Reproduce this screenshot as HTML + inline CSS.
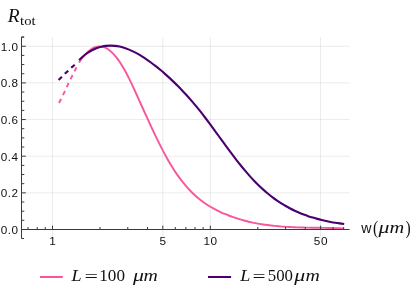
<!DOCTYPE html>
<html><head><meta charset="utf-8"><title>Rtot plot</title>
<style>html,body{margin:0;padding:0;background:#fff;}body{width:415px;height:300px;overflow:hidden;font-family:"Liberation Sans",sans-serif;}svg{display:block;will-change:transform;}</style></head>
<body>
<svg width="415" height="300" viewBox="0 0 415 300">
<rect width="415" height="300" fill="#fff"/>
<path d="M52.50 37.00 V238.50 M162.80 37.00 V238.50 M210.30 37.00 V238.50 M320.60 37.00 V238.50" stroke="#000" stroke-opacity="0.08" stroke-width="1" fill="none"/>
<path d="M21.50 229.50 H349.60 M21.50 192.85 H349.60 M21.50 156.20 H349.60 M21.50 119.55 H349.60 M21.50 82.90 H349.60 M21.50 46.25 H349.60" stroke="#000" stroke-opacity="0.08" stroke-width="1" fill="none"/>
<path d="M59.00 103.00 C59.33 102.33 60.33 100.33 61.00 99.00 C61.67 97.67 62.33 96.33 63.00 95.00 C63.67 93.67 64.37 92.33 65.00 91.00 C65.63 89.67 66.20 88.33 66.80 87.00 C67.40 85.67 68.00 84.27 68.60 83.00 C69.20 81.73 69.77 80.65 70.40 79.40 C71.03 78.15 71.77 76.77 72.40 75.50 C73.03 74.23 73.53 73.13 74.20 71.80 C74.87 70.47 75.60 69.06 76.40 67.50 C77.20 65.94 78.57 63.31 79.00 62.47" stroke="#F7579C" stroke-width="1.9" fill="none" stroke-dasharray="4.6 4.2 4.6 4.2 4.6 4.2 4.6 4.2 4.6 100"/>
<path d="M79.00 62.47 C79.64 61.60 81.56 58.83 82.84 57.24 C84.12 55.65 85.40 54.20 86.68 52.94 C87.96 51.67 89.23 50.56 90.51 49.65 C91.79 48.73 93.07 47.99 94.35 47.45 C95.63 46.91 96.91 46.55 98.19 46.41 C99.47 46.27 100.75 46.33 102.03 46.59 C103.31 46.85 104.58 47.31 105.86 47.96 C107.14 48.61 108.42 49.45 109.70 50.46 C110.98 51.47 112.26 52.67 113.54 54.04 C114.82 55.41 116.10 56.96 117.38 58.67 C118.66 60.38 119.93 62.25 121.21 64.28 C122.49 66.31 123.77 68.51 125.05 70.83 C126.33 73.15 127.61 75.64 128.89 78.19 C130.17 80.74 131.45 83.42 132.73 86.14 C134.01 88.86 135.29 91.67 136.57 94.48 C137.85 97.29 139.12 100.15 140.40 102.99 C141.68 105.83 142.96 108.67 144.24 111.50 C145.52 114.33 146.80 117.15 148.08 119.94 C149.36 122.73 150.64 125.51 151.92 128.24 C153.20 130.97 154.47 133.69 155.75 136.34 C157.03 138.99 158.31 141.60 159.59 144.15 C160.87 146.70 162.15 149.20 163.43 151.63 C164.71 154.06 165.99 156.42 167.27 158.70 C168.55 160.98 169.82 163.18 171.10 165.29 C172.38 167.40 173.66 169.42 174.94 171.35 C176.22 173.28 177.50 175.12 178.78 176.89 C180.06 178.66 181.34 180.34 182.62 181.95 C183.90 183.56 185.18 185.09 186.46 186.55 C187.74 188.01 189.01 189.40 190.29 190.72 C191.57 192.04 192.85 193.30 194.13 194.50 C195.41 195.70 196.69 196.82 197.97 197.90 C199.25 198.98 200.53 200.00 201.81 200.97 C203.09 201.94 204.36 202.87 205.64 203.74 C206.92 204.62 208.20 205.44 209.48 206.22 C210.76 207.00 212.04 207.74 213.32 208.45 C214.60 209.16 215.88 209.83 217.16 210.47 C218.44 211.11 219.71 211.72 220.99 212.30 C222.27 212.88 223.55 213.44 224.83 213.97 C226.11 214.50 227.39 215.02 228.67 215.51 C229.95 216.00 231.23 216.47 232.51 216.92 C233.79 217.37 235.06 217.81 236.34 218.22 C237.62 218.63 238.90 219.03 240.18 219.41 C241.46 219.79 242.74 220.15 244.02 220.49 C245.30 220.83 246.58 221.16 247.86 221.47 C249.14 221.78 250.42 222.07 251.70 222.35 C252.98 222.63 254.25 222.89 255.53 223.14 C256.81 223.39 258.09 223.63 259.37 223.85 C260.65 224.07 261.93 224.28 263.21 224.48 C264.49 224.68 265.77 224.86 267.05 225.03 C268.33 225.20 269.60 225.36 270.88 225.51 C272.16 225.66 273.44 225.80 274.72 225.93 C276.00 226.06 277.28 226.18 278.56 226.29 C279.84 226.40 281.12 226.50 282.40 226.59 C283.68 226.68 284.95 226.77 286.23 226.85 C287.51 226.93 288.79 227.00 290.07 227.06 C291.35 227.12 292.63 227.19 293.91 227.24 C295.19 227.29 296.47 227.34 297.75 227.38 C299.03 227.42 300.31 227.46 301.59 227.49 C302.87 227.53 304.14 227.56 305.42 227.59 C306.70 227.62 307.98 227.64 309.26 227.66 C310.54 227.68 311.82 227.71 313.10 227.73 C314.38 227.75 315.66 227.77 316.94 227.79 C318.22 227.81 319.49 227.83 320.77 227.85 C322.05 227.87 323.33 227.89 324.61 227.91 C325.89 227.93 327.17 227.95 328.45 227.98 C329.73 228.01 331.01 228.04 332.29 228.07 C333.57 228.10 334.84 228.13 336.12 228.17 C337.40 228.21 338.68 228.26 339.96 228.31 C341.24 228.36 343.16 228.44 343.80 228.47" stroke="#F7579C" stroke-width="1.9" fill="none" stroke-linecap="butt" stroke-linejoin="round"/>
<path d="M58.60 80.00 C59.17 79.43 60.93 77.67 62.00 76.60 C63.07 75.53 63.93 74.60 65.00 73.60 C66.07 72.60 67.33 71.60 68.40 70.60 C69.47 69.60 70.30 68.62 71.40 67.60 C72.50 66.58 73.73 65.76 75.00 64.50 C76.27 63.24 78.33 60.80 79.00 60.06" stroke="#4A0070" stroke-width="2.1" fill="none" stroke-dasharray="4.6 4.2 4.6 4.2 4.6 100"/>
<path d="M79.00 60.06 C79.75 59.39 81.99 57.25 83.49 56.02 C84.99 54.79 86.49 53.70 87.99 52.70 C89.49 51.70 90.98 50.82 92.48 50.05 C93.98 49.27 95.48 48.61 96.98 48.05 C98.48 47.48 99.97 47.03 101.47 46.66 C102.97 46.29 104.47 46.03 105.97 45.85 C107.47 45.67 108.96 45.59 110.46 45.59 C111.96 45.59 113.46 45.68 114.96 45.84 C116.46 46.01 117.95 46.26 119.45 46.58 C120.95 46.90 122.45 47.30 123.95 47.76 C125.45 48.22 126.94 48.77 128.44 49.37 C129.94 49.97 131.44 50.64 132.94 51.36 C134.44 52.08 135.93 52.87 137.43 53.70 C138.93 54.53 140.43 55.42 141.93 56.36 C143.43 57.30 144.92 58.29 146.42 59.31 C147.92 60.34 149.42 61.41 150.92 62.51 C152.42 63.61 153.91 64.77 155.41 65.94 C156.91 67.11 158.41 68.32 159.91 69.56 C161.41 70.80 162.90 72.07 164.40 73.38 C165.90 74.69 167.40 76.03 168.90 77.40 C170.40 78.78 171.89 80.19 173.39 81.63 C174.89 83.07 176.39 84.55 177.89 86.06 C179.39 87.57 180.88 89.12 182.38 90.70 C183.88 92.28 185.38 93.90 186.88 95.56 C188.38 97.22 189.87 98.91 191.37 100.64 C192.87 102.37 194.37 104.13 195.87 105.94 C197.37 107.75 198.86 109.59 200.36 111.47 C201.86 113.35 203.36 115.28 204.86 117.24 C206.36 119.19 207.85 121.19 209.35 123.20 C210.85 125.21 212.35 127.26 213.85 129.31 C215.35 131.36 216.84 133.44 218.34 135.50 C219.84 137.56 221.34 139.64 222.84 141.70 C224.34 143.76 225.83 145.83 227.33 147.86 C228.83 149.90 230.33 151.92 231.83 153.91 C233.33 155.90 234.82 157.87 236.32 159.80 C237.82 161.73 239.32 163.63 240.82 165.49 C242.32 167.35 243.81 169.17 245.31 170.94 C246.81 172.71 248.31 174.45 249.81 176.12 C251.31 177.79 252.80 179.41 254.30 180.97 C255.80 182.53 257.30 184.03 258.80 185.48 C260.30 186.93 261.79 188.31 263.29 189.65 C264.79 190.99 266.29 192.27 267.79 193.50 C269.29 194.73 270.78 195.92 272.28 197.05 C273.78 198.18 275.28 199.26 276.78 200.30 C278.28 201.34 279.77 202.33 281.27 203.28 C282.77 204.23 284.27 205.13 285.77 206.00 C287.27 206.87 288.76 207.69 290.26 208.47 C291.76 209.25 293.26 209.99 294.76 210.70 C296.26 211.41 297.75 212.08 299.25 212.72 C300.75 213.36 302.25 213.96 303.75 214.53 C305.25 215.10 306.74 215.64 308.24 216.15 C309.74 216.66 311.24 217.13 312.74 217.59 C314.24 218.05 315.73 218.47 317.23 218.88 C318.73 219.28 320.23 219.66 321.73 220.02 C323.23 220.38 324.72 220.71 326.22 221.02 C327.72 221.34 329.22 221.63 330.72 221.91 C332.22 222.19 333.71 222.45 335.21 222.70 C336.71 222.95 338.21 223.17 339.71 223.39 C341.21 223.61 343.45 223.91 344.20 224.01" stroke="#4A0070" stroke-width="2.1" fill="none" stroke-linecap="butt" stroke-linejoin="round"/>
<path d="M21.50 37.00 V238.50 M21.50 229.50 H349.60 M21.50 229.50 h4.30 M21.50 220.34 h2.80 M21.50 211.18 h2.80 M21.50 202.01 h2.80 M21.50 192.85 h4.30 M21.50 183.69 h2.80 M21.50 174.52 h2.80 M21.50 165.36 h2.80 M21.50 156.20 h4.30 M21.50 147.04 h2.80 M21.50 137.88 h2.80 M21.50 128.71 h2.80 M21.50 119.55 h4.30 M21.50 110.39 h2.80 M21.50 101.22 h2.80 M21.50 92.06 h2.80 M21.50 82.90 h4.30 M21.50 73.74 h2.80 M21.50 64.57 h2.80 M21.50 55.41 h2.80 M21.50 46.25 h4.30 M21.50 37.09 h2.80 M21.50 37.00 h2.5 M21.50 238.50 h2.5 M52.50 229.50 v-3.9 M162.80 229.50 v-3.9 M210.30 229.50 v-3.9 M320.60 229.50 v-3.9 M28.06 229.50 v-2.5 M37.21 229.50 v-2.5 M45.28 229.50 v-2.5 M100.00 229.50 v-2.5 M127.79 229.50 v-2.5 M147.51 229.50 v-2.5 M175.29 229.50 v-2.5 M185.86 229.50 v-2.5 M195.01 229.50 v-2.5 M203.08 229.50 v-2.5 M257.80 229.50 v-2.5 M285.59 229.50 v-2.5 M305.31 229.50 v-2.5 M333.09 229.50 v-2.5 M343.66 229.50 v-2.5" stroke="#3a3a3a" stroke-width="1" fill="none"/>
<text transform="translate(18.30 233.80) scale(1.000 1)" font-family="Liberation Sans, sans-serif" font-size="11.70" text-anchor="end" fill="#111111" letter-spacing="0.4">0.0</text>
<text transform="translate(18.30 197.15) scale(1.000 1)" font-family="Liberation Sans, sans-serif" font-size="11.70" text-anchor="end" fill="#111111" letter-spacing="0.4">0.2</text>
<text transform="translate(18.30 160.50) scale(1.000 1)" font-family="Liberation Sans, sans-serif" font-size="11.70" text-anchor="end" fill="#111111" letter-spacing="0.4">0.4</text>
<text transform="translate(18.30 123.85) scale(1.000 1)" font-family="Liberation Sans, sans-serif" font-size="11.70" text-anchor="end" fill="#111111" letter-spacing="0.4">0.6</text>
<text transform="translate(18.30 87.20) scale(1.000 1)" font-family="Liberation Sans, sans-serif" font-size="11.70" text-anchor="end" fill="#111111" letter-spacing="0.4">0.8</text>
<text transform="translate(18.30 50.55) scale(1.000 1)" font-family="Liberation Sans, sans-serif" font-size="11.70" text-anchor="end" fill="#111111" letter-spacing="0.4">1.0</text>
<text transform="translate(52.50 245.30) scale(1.000 1)" font-family="Liberation Sans, sans-serif" font-size="11.80" text-anchor="middle" fill="#111111">1</text>
<text transform="translate(162.80 245.30) scale(1.000 1)" font-family="Liberation Sans, sans-serif" font-size="11.80" text-anchor="middle" fill="#111111">5</text>
<text transform="translate(210.60 245.30) scale(1.000 1)" font-family="Liberation Sans, sans-serif" font-size="11.80" text-anchor="middle" fill="#111111" letter-spacing="0.6">10</text>
<text transform="translate(320.90 245.30) scale(1.000 1)" font-family="Liberation Sans, sans-serif" font-size="11.80" text-anchor="middle" fill="#111111" letter-spacing="0.6">50</text>
<text transform="translate(7.80 21.70) scale(1.030 1)" font-family="Liberation Serif, serif" font-size="18.80" font-style="italic" text-anchor="start" fill="#111111">R</text>
<text transform="translate(20.10 24.70) scale(1.180 1)" font-family="Liberation Serif, serif" font-size="12.40" text-anchor="start" fill="#111111">tot</text>
<text transform="translate(361.20 232.80) scale(1.000 1)" font-family="Liberation Sans, sans-serif" font-size="14.20" text-anchor="start" fill="#111111">w</text>
<text transform="translate(372.90 233.80) scale(0.820 1)" font-family="Liberation Serif, serif" font-size="19.00" text-anchor="start" fill="#111111">(</text>
<text transform="translate(378.50 232.80) scale(1.280 1)" font-family="Liberation Serif, serif" font-size="17.00" font-style="italic" text-anchor="start" fill="#111111">μ</text>
<text transform="translate(389.50 232.80) scale(1.200 1)" font-family="Liberation Serif, serif" font-size="17.00" font-style="italic" text-anchor="start" fill="#111111">m</text>
<text transform="translate(405.40 233.80) scale(0.820 1)" font-family="Liberation Serif, serif" font-size="19.00" text-anchor="start" fill="#111111">)</text>
<path d="M40 277 H62.8" stroke="#F7579C" stroke-width="2"/>
<path d="M208 277 H231.1" stroke="#4A0070" stroke-width="2"/>
<text transform="translate(71.60 281.10) scale(1.080 1)" font-family="Liberation Serif, serif" font-size="16.80" font-style="italic" text-anchor="start" fill="#111111">L</text>
<text transform="translate(84.50 282.00) scale(1.420 1)" font-family="Liberation Serif, serif" font-size="16.80" text-anchor="start" fill="#111111">=</text>
<text transform="translate(99.30 281.10) scale(1.020 1)" font-family="Liberation Serif, serif" font-size="16.80" text-anchor="start" fill="#111111">100</text>
<text transform="translate(133.00 281.10) scale(1.300 1)" font-family="Liberation Serif, serif" font-size="16.80" font-style="italic" text-anchor="start" fill="#111111">μ</text>
<text transform="translate(143.60 281.10) scale(1.180 1)" font-family="Liberation Serif, serif" font-size="16.80" font-style="italic" text-anchor="start" fill="#111111">m</text>
<text transform="translate(240.20 281.10) scale(1.080 1)" font-family="Liberation Serif, serif" font-size="16.80" font-style="italic" text-anchor="start" fill="#111111">L</text>
<text transform="translate(252.50 282.00) scale(1.380 1)" font-family="Liberation Serif, serif" font-size="16.80" text-anchor="start" fill="#111111">=</text>
<text transform="translate(267.80 281.10) scale(1.000 1)" font-family="Liberation Serif, serif" font-size="16.80" text-anchor="start" fill="#111111">500</text>
<text transform="translate(294.30 281.10) scale(1.300 1)" font-family="Liberation Serif, serif" font-size="16.80" font-style="italic" text-anchor="start" fill="#111111">μ</text>
<text transform="translate(305.40 281.10) scale(1.180 1)" font-family="Liberation Serif, serif" font-size="16.80" font-style="italic" text-anchor="start" fill="#111111">m</text>
</svg>
</body></html>
